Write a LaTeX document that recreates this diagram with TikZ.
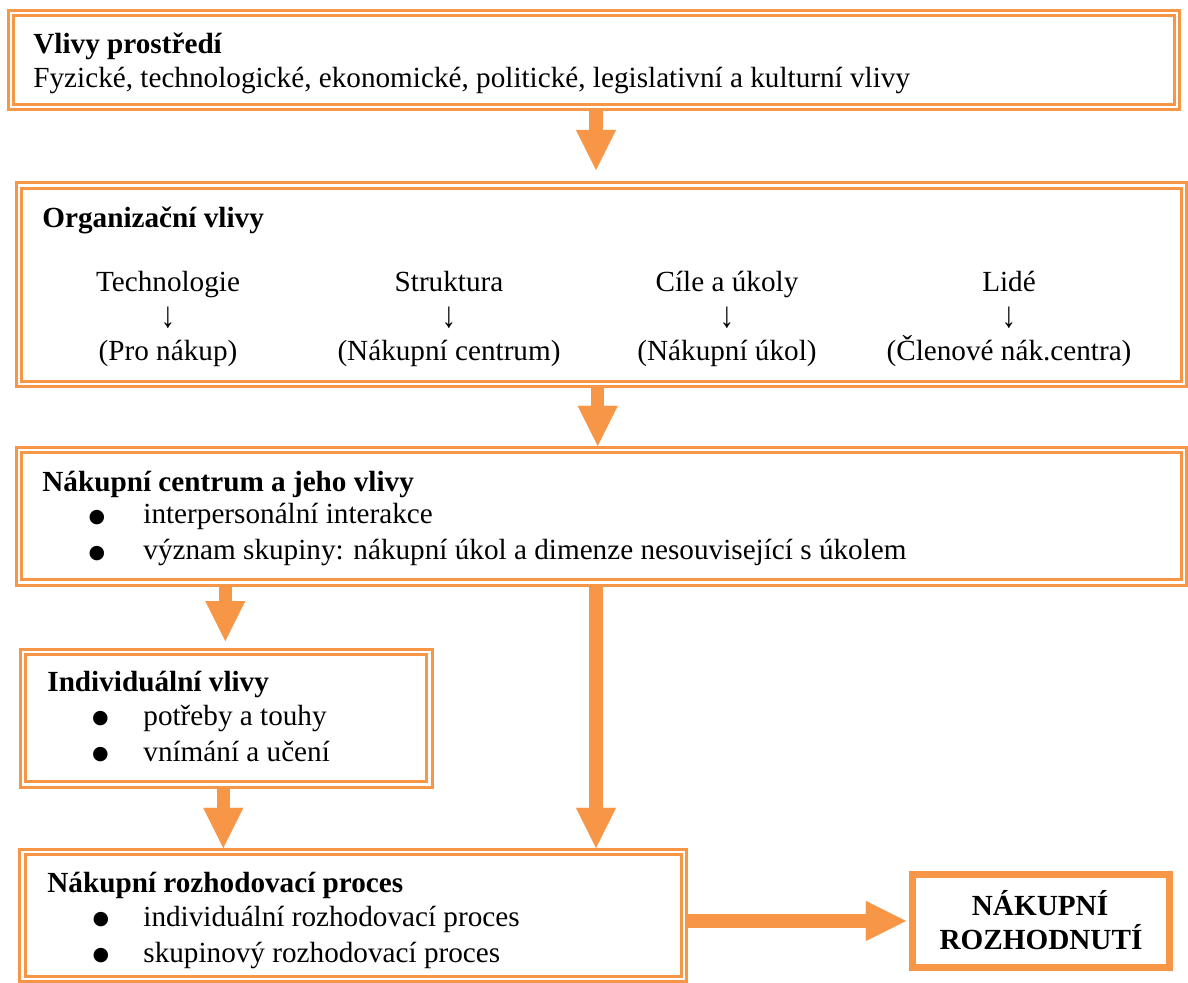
\documentclass[tikz,border=0pt]{standalone}
\usepackage{fontspec}
\setmainfont{Liberation Serif}
\newfontfamily\markfont{DejaVu Sans}
\usetikzlibrary{arrows.meta,fit}
\definecolor{accent}{RGB}{247,150,70}
\begin{document}
\begin{tikzpicture}[x=0.5pt,y=-0.5pt,
  font=\fontsize{14.6}{17}\selectfont,
  dbox/.style={draw=accent, double=white, line width=1.45pt, double distance=1.2pt,
    inner sep=0pt, outer sep=2.05pt},
  sbox/.style={draw=accent, line width=3.35pt, inner sep=0pt, outer sep=1.675pt},
  txt/.style={anchor=base west, inner sep=0pt},
  head/.style={txt, font=\fontsize{14.6}{17}\selectfont\bfseries},
  col/.style={anchor=base, inner sep=0pt},
  down/.style={col, yscale=1.25},
  dot/.style={anchor=base, inner sep=0pt, yshift=0.6pt, font=\markfont\fontsize{9.5}{10}\selectfont},
  barrow/.style={draw=accent, line width=6.65pt,
    -{Triangle[length=20pt,width=20pt,line width=0.01pt]}}
]
\useasboundingbox (0,0) rectangle (1188,983);

% frames
\node[dbox, fit={(11,13.3) (1176.7,107)}] (env) {};
\node[dbox, fit={(19,185.5) (1184,384)}] (org) {};
\node[dbox, fit={(19,450) (1184,582.5)}] (ctr) {};
\node[dbox, fit={(23,652) (429.5,784.5)}] (ind) {};
\node[dbox, fit={(22.5,852) (684,979)}] (proc) {};
\node[sbox, fit={(912.7,874.3) (1169.7,967.3)}] (dec) {};

% environment
\node[head] (envh) at (33,53.3) {Vlivy prostředí};
\node[txt] (envt) at (33,87.3) {Fyzické, technologické, ekonomické, politické, legislativní a kulturní vlivy};

% organisation
\node[head] (orgh) at (42,228) {Organizační vlivy};
\node[col] (c1a) at (168,292) {Technologie};
\node[down] (c1b) at (168,328) {↓};
\node[col] (c1c) at (168,361) {(Pro nákup)};
\node[col] (c2a) at (449,292) {Struktura};
\node[down] (c2b) at (449,328) {↓};
\node[col] (c2c) at (449,361) {(Nákupní centrum)};
\node[col] (c3a) at (727,292) {Cíle a úkoly};
\node[down] (c3b) at (727,328) {↓};
\node[col] (c3c) at (727,361) {(Nákupní úkol)};
\node[col] (c4a) at (1009,292) {Lidé};
\node[down] (c4b) at (1009,328) {↓};
\node[col] (c4c) at (1009,361) {(Členové nák.centra)};

% buying centre
\node[head] (ctrh) at (42,491.7) {Nákupní centrum a jeho vlivy};
\node[dot] (ctrd1) at (97,523.3) {●};
\node[txt] (ctr1) at (143,523.3) {interpersonální interakce};
\node[dot] (ctrd2) at (97,559.3) {●};
\node[txt] (ctr2) at (143,559.3) {význam skupiny: nákupní úkol a dimenze nesouvisející s úkolem};

% individual
\node[head] (indh) at (47,691.7) {Individuální vlivy};
\node[dot] (indd1) at (100.5,725) {●};
\node[txt] (ind1) at (143,725) {potřeby a touhy};
\node[dot] (indd2) at (100.5,761) {●};
\node[txt] (ind2) at (143,761) {vnímání a učení};

% process
\node[head] (proch) at (47,892.7) {Nákupní rozhodovací proces};
\node[dot] (procd1) at (101,926) {●};
\node[txt] (proc1) at (143,926) {individuální rozhodovací proces};
\node[dot] (procd2) at (101,962) {●};
\node[txt] (proc2) at (143,962) {skupinový rozhodovací proces};

% decision
\node[col, font=\fontsize{14.6}{17}\selectfont\bfseries] (dec1) at (1040,915) {NÁKUPNÍ};
\node[col, font=\fontsize{14.6}{17}\selectfont\bfseries] (dec2) at (1041,949) {ROZHODNUTÍ};

% block arrows
\coordinate (x1) at (596,0);
\coordinate (x2) at (597.7,0);
\coordinate (x3) at (225.3,0);
\coordinate (x4) at (223.3,0);
\coordinate (y6) at (0,921);
\draw[barrow, shorten >=5.7pt] (env.south -| x1) -- (org.north -| x1);
\draw[barrow] (org.south -| x2) -- (ctr.north -| x2);
\draw[barrow, shorten >=3.45pt] (ctr.south -| x3) -- (ind.north -| x3);
\draw[barrow] (ind.south -| x4) -- (proc.north -| x4);
\draw[barrow] (ctr.south -| x1) -- (proc.north -| x1);
\draw[barrow, shorten >=1.7pt] (proc.east |- y6) -- (dec.west |- y6);
\end{tikzpicture}
\end{document}
